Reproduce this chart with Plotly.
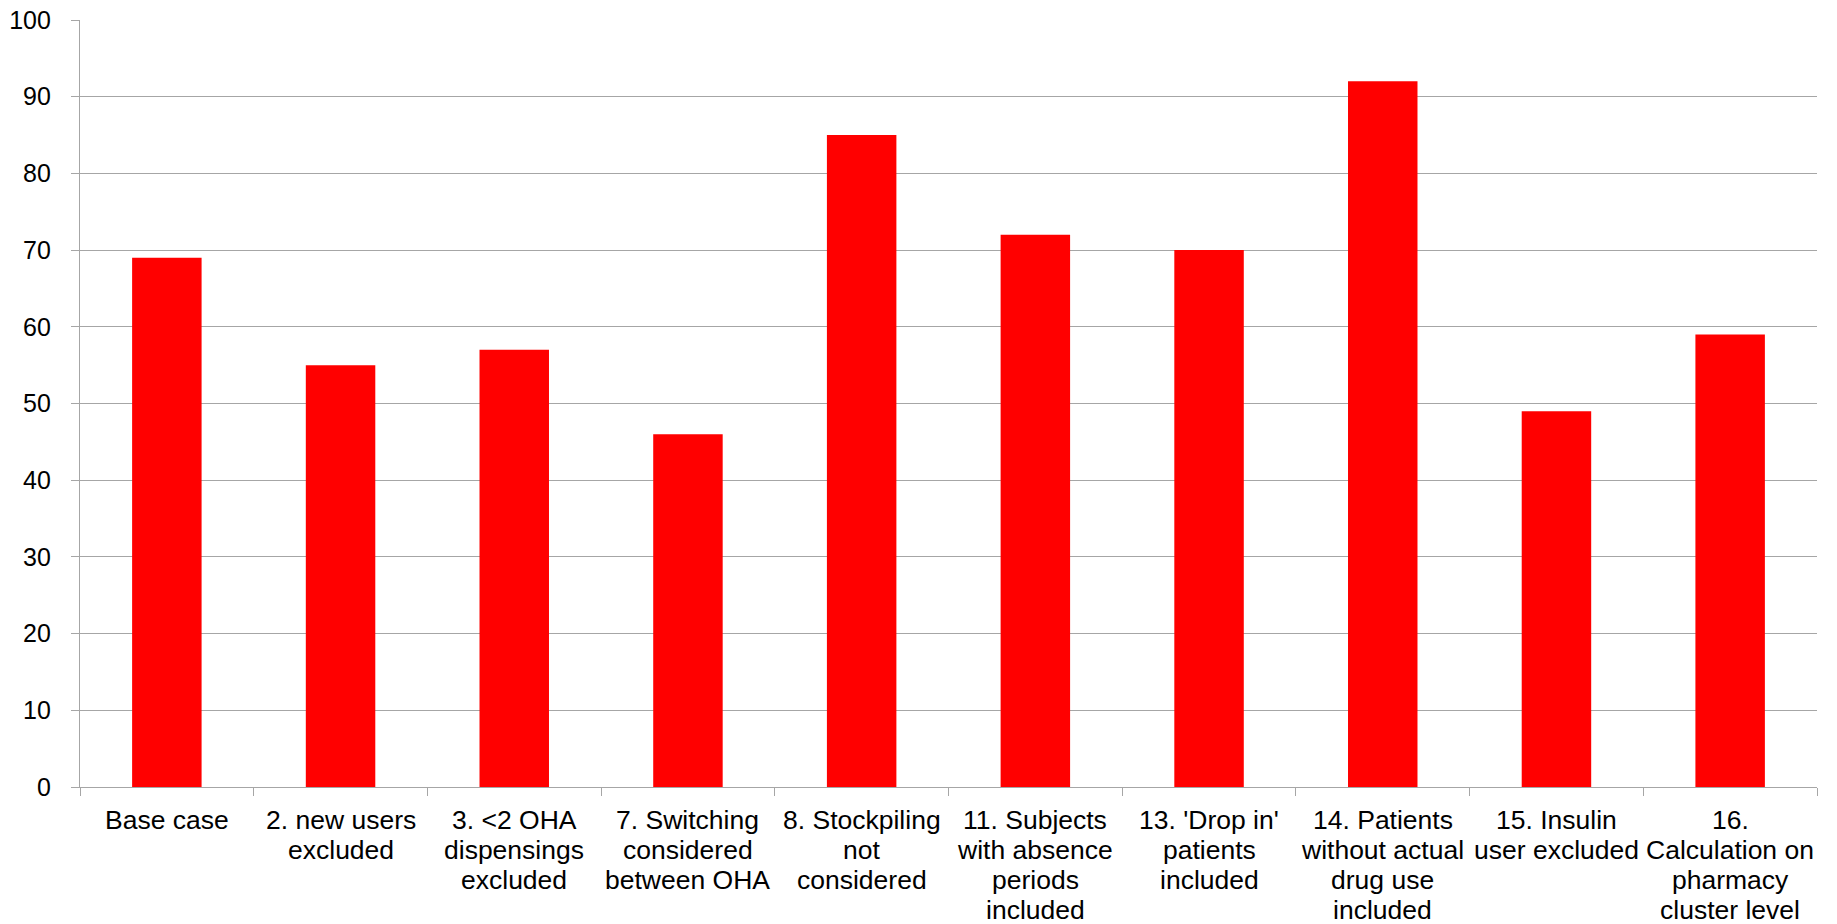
import plotly.graph_objects as go

categories = [
    "Base case",
    "2. new users<br>excluded",
    "3. &lt;2 OHA<br>dispensings<br>excluded",
    "7. Switching<br>considered<br>between OHA",
    "8. Stockpiling<br>not<br>considered",
    "11. Subjects<br>with absence<br>periods<br>included",
    "13. 'Drop in'<br>patients<br>included",
    "14. Patients<br>without actual<br>drug use<br>included",
    "15. Insulin<br>user excluded",
    "16.<br>Calculation on<br>pharmacy<br>cluster level",
]
values = [69, 55, 57, 46, 85, 72, 70, 92, 49, 59]
y_ticks = list(range(0, 101, 10))

fig = go.Figure(go.Bar(x=categories, y=values, marker=dict(color="#ff0000", line=dict(width=0))))

grid = "#a6a6a6"
font_family = "Liberation Sans, Arial, sans-serif"
fig.update_layout(
    width=1837, height=924,
    margin=dict(l=80, r=20, t=20, b=137),
    paper_bgcolor="white", plot_bgcolor="white",
    bargap=0.6,
    showlegend=False,
    font=dict(family=font_family, size=25, color="black"),
)
fig.update_yaxes(
    range=[0, 100], tickvals=y_ticks, showgrid=True, gridcolor=grid, gridwidth=1.3,
    showline=True, linecolor=grid, linewidth=1.3, ticks="outside", ticklen=8,
    tickcolor=grid, zeroline=False, ticklabelstandoff=15, automargin=False,
)
fig.update_xaxes(
    showline=True, linecolor=grid, linewidth=1.3, ticks="outside", ticklen=8,
    tickcolor=grid, tickson="boundaries", showgrid=False,
    showticklabels=False, automargin=False,
)

# category labels, one text line per annotation for tighter line spacing
first_offset = 32.5
line_step = 30.3
for cat in categories:
    for i, line in enumerate(cat.split("<br>")):
        fig.add_annotation(
            x=cat, y=0, xref="x", yref="y", text=line, showarrow=False,
            xanchor="center", yanchor="middle",
            yshift=-(first_offset + i * line_step),
            font=dict(family=font_family, size=26.5, color="black"),
        )

fig.write_html("out.html")
